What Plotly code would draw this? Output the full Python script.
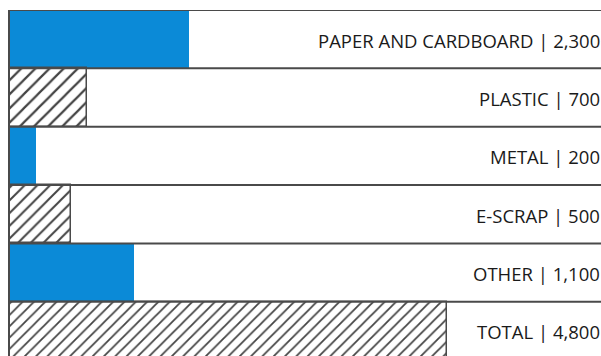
import plotly.graph_objects as go

# Data
categories = ["PAPER AND CARDBOARD", "PLASTIC", "METAL", "E-SCRAP", "OTHER", "TOTAL"]
values = [2300, 700, 200, 500, 1100, 4800]          # label values
bar_lengths = [180, 78, 27, 62, 125, 438]           # displayed bar lengths
hatched = [False, True, False, True, False, True]

BLUE = "#0B8AD7"
LINE = "#4a4a4a"

positions = list(range(len(categories)))
colors = ["white" if h else BLUE for h in hatched]
shapes_pat = ["/" if h else "" for h in hatched]
pat_sizes = [10, 10, 10, 9, 10, 8]
line_w = [1.5 if h else 0 for h in hatched]

fig = go.Figure()
fig.add_trace(go.Bar(
    x=bar_lengths,
    y=positions,
    orientation="h",
    marker=dict(
        color=colors,
        line=dict(color=LINE, width=line_w),
        pattern=dict(shape=shapes_pat, fgcolor="#000000", fgopacity=1,
                     bgcolor="white", fillmode="overlay", size=pat_sizes, solidity=0.22),
    ),
    hoverinfo="skip",
))

shapes = []
for i in range(len(categories) + 1):
    shapes.append(dict(type="line", xref="paper", yref="y", x0=0, x1=1,
                       y0=i - 0.5, y1=i - 0.5, line=dict(color=LINE, width=2), layer="above"))
shapes.append(dict(type="line", xref="paper", yref="paper", x0=0, x1=0, y0=0, y1=1,
                   line=dict(color=LINE, width=2), layer="above"))

annotations = []
for cat, v, p in zip(categories, values, positions):
    annotations.append(dict(
        x=1, xref="paper", y=p, yref="y", xanchor="right", yanchor="middle",
        text=f"{cat} | {v:,}", showarrow=False, xshift=1, yshift=-1,
        font=dict(family="Open Sans", size=18.5, color="#1a1a1a"),
    ))

fig.update_layout(
    width=601, height=356,
    margin=dict(l=9, r=0, t=10, b=0),
    paper_bgcolor="white", plot_bgcolor="white",
    bargap=0,
    showlegend=False,
    shapes=shapes,
    annotations=annotations,
    xaxis=dict(range=[0, 592], visible=False, fixedrange=True),
    yaxis=dict(range=[5.43, -0.5], visible=False, fixedrange=True),
)

fig.write_html("out.html", config={"displayModeBar": False})
